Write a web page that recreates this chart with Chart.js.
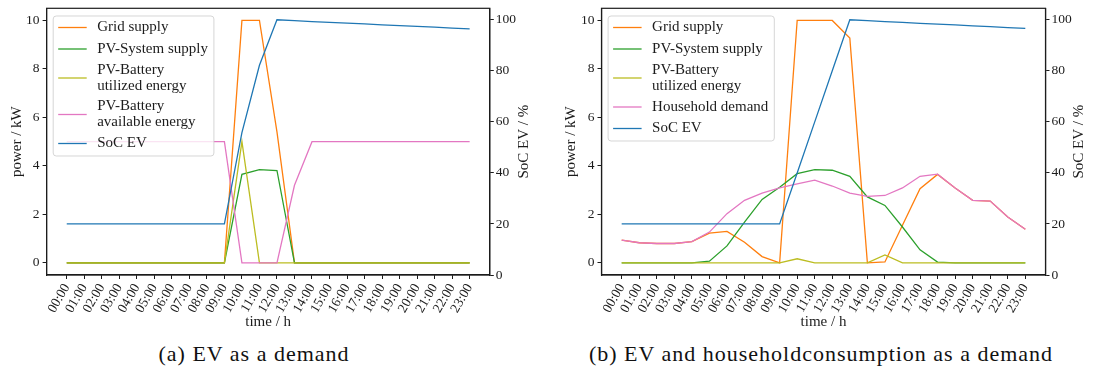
<!DOCTYPE html>
<html>
<head>
<meta charset="utf-8">
<title>EV charging profiles</title>
<script src="https://cdn.jsdelivr.net/npm/chart.js@4.4.1/dist/chart.umd.min.js"></script>
<style>
  html, body { margin: 0; padding: 0; background: #fff; }
  #wrap { position: relative; width: 1094px; height: 383px; overflow: hidden; }
  .panel { position: absolute; top: 0; width: 547px; height: 340px; }
  .caption { position: absolute; top: 341px; font-family: "Liberation Serif", serif; font-size: 22px;
             color: #111; white-space: nowrap; transform: translateX(-50%); letter-spacing: 1px; }
</style>
</head>
<body>
<div id="wrap">
  <div class="panel" style="left:0"><canvas id="chartA"></canvas></div>
  <div class="panel" style="left:547px"><canvas id="chartB"></canvas></div>
  <div class="caption" style="left:254px">(a) EV as a demand</div>
  <div class="caption" style="left:821px">(b) EV and householdconsumption as a demand</div>
</div>
<script>
// Hours of the day
const hours = ['00:00','01:00','02:00','03:00','04:00','05:00','06:00','07:00','08:00','09:00','10:00','11:00',
               '12:00','13:00','14:00','15:00','16:00','17:00','18:00','19:00','20:00','21:00','22:00','23:00'];
const powerTicks = [0, 2, 4, 6, 8, 10];
const socTicks = [0, 20, 40, 60, 80, 100];

// (a) EV as the only demand — power in kW, SoC in %
const gridA        = [0,0,0,0,0,0,0,0,0,0, 10,10,5.4,0, 0,0,0,0,0,0,0,0,0,0];
const pvA          = [0,0,0,0,0,0,0,0,0,0, 3.65,3.85,3.81,0, 0,0,0,0,0,0,0,0,0,0];
const battUsedA    = [0,0,0,0,0,0,0,0,0,0, 5.0,0,0,0, 0,0,0,0,0,0,0,0,0,0];
const battAvailA   = [5,5,5,5,5,5,5,5,5,5, 0,0,0,3.2, 5,5,5,5,5,5,5,5,5,5];
const socA         = [20,20,20,20,20,20,20,20,20,20, 55.8,82.2,100,99.7, 99.3,99.0,98.7,98.4,98.0,97.7,97.4,97.1,96.7,96.4];

// (b) EV plus household consumption
const gridB        = [0.94,0.83,0.80,0.80,0.88,1.23,1.30,0.85,0.26,0, 10,10,10,9.27, 0,0.04,1.55,3.06,3.65,3.09,2.58,2.55,1.89,1.39];
const pvB          = [0,0,0,0,0,0.07,0.70,1.68,2.62,3.12, 3.68,3.85,3.82,3.57, 2.72,2.37,1.48,0.54,0.03,0,0,0,0,0];
const battUsedB    = [0,0,0,0,0,0,0,0,0,0, 0.17,0,0,0, 0,0.33,0,0,0,0,0,0,0,0];
const householdB   = [0.94,0.83,0.80,0.80,0.88,1.27,2.03,2.58,2.88,3.09, 3.26,3.41,3.17,2.88, 2.74,2.78,3.09,3.57,3.66,3.09,2.58,2.55,1.89,1.39];
const socB         = [20,20,20,20,20,20,20,20,20,20, 40,60,80,100, 99.7,99.3,99.0,98.6,98.3,98.0,97.6,97.3,96.9,96.6];

const C = { orange: '#ff7f0e', green: '#2ca02c', olive: '#bcbd22', pink: '#e377c2', blue: '#1f77b4' };
const INK = '#1c1c1c';
const FONT = '"Liberation Serif", serif';

Chart.defaults.font.family = FONT;
Chart.defaults.color = INK;

// Frame, axis titles and an in-plot legend box
const decor = {
  id: 'decor',
  afterDraw(chart, args, o) {
    const { ctx, chartArea: a } = chart;
    ctx.save();
    ctx.strokeStyle = INK; ctx.lineWidth = 1.2;
    ctx.strokeRect(a.left, a.top, a.right - a.left, a.bottom - a.top);

    ctx.fillStyle = INK; ctx.font = '15px ' + FONT;
    ctx.textAlign = 'center'; ctx.textBaseline = 'middle';
    const midY = (a.top + a.bottom) / 2;
    ctx.fillText(o.xTitle, (a.left + a.right) / 2, a.bottom + 47);
    ctx.save(); ctx.translate(a.left - 30, midY); ctx.rotate(-Math.PI / 2); ctx.fillText(o.yTitle, 0, 0); ctx.restore();
    ctx.save(); ctx.translate(a.right + 34, midY); ctx.rotate(-Math.PI / 2); ctx.fillText(o.y2Title, 0, 0); ctx.restore();

    // legend
    const items = chart.data.datasets.map(d => ({ lines: d.label.split('\n'), color: d.borderColor }));
    ctx.font = '15px ' + FONT;
    let maxW = 0;
    items.forEach(it => it.lines.forEach(t => { maxW = Math.max(maxW, ctx.measureText(t).width); }));
    const bx = a.left + 6.6, by = a.top + 7.7;
    let cur = 3;
    const rows = items.map(it => {
      const h = it.lines.length === 1 ? 17 : 16 * it.lines.length;
      const r = { it, top: cur, h };
      cur += h + 4.5;
      return r;
    });
    const bh = cur - 4.5 + 4, bw = 44 + maxW + 6;
    ctx.beginPath();
    ctx.roundRect(bx, by, bw, bh, 3);
    ctx.fillStyle = 'rgba(255,255,255,0.8)'; ctx.fill();
    ctx.strokeStyle = 'rgba(204,204,204,0.8)'; ctx.lineWidth = 1; ctx.stroke();
    ctx.textAlign = 'left';
    rows.forEach(r => {
      const cy = by + r.top + r.h / 2;
      ctx.strokeStyle = r.it.color; ctx.lineWidth = 1.3;
      ctx.beginPath(); ctx.moveTo(bx + 5, cy); ctx.lineTo(bx + 33.5, cy); ctx.stroke();
      ctx.fillStyle = INK;
      r.it.lines.forEach((t, k) => {
        const ty = r.it.lines.length === 1 ? cy : by + r.top + 8 + 16 * k;
        ctx.fillText(t, bx + 44, ty);
      });
    });
    ctx.restore();
  }
};

function makeChart(id, series, leftW, rightW) {
  const tickFont = { family: FONT, size: 13.5 };
  const axisCommon = {
    grid: { display: true, drawOnChartArea: false, drawTicks: true, tickLength: 4, color: INK, tickWidth: 1 },
    border: { display: true, color: INK, width: 1.2 }
  };
  return new Chart(document.getElementById(id), {
    type: 'line',
    data: {
      datasets: series.map((s, k) => ({
        label: s.label,
        data: s.values.map((v, i) => ({ x: i, y: v })),
        borderColor: s.color, backgroundColor: s.color,
        borderWidth: 1.3, pointRadius: 0, tension: 0, fill: false,
        yAxisID: s.axis, order: series.length - k
      }))
    },
    options: {
      responsive: true, maintainAspectRatio: false, animation: false, devicePixelRatio: 1,
      layout: { padding: { top: 8.3, left: 0, right: 0, bottom: 0 } },
      plugins: {
        legend: { display: false }, tooltip: { enabled: false },
        decor: { xTitle: 'time / h', yTitle: 'power / kW', y2Title: 'SoC EV / %' }
      },
      scales: {
        x: Object.assign({}, axisCommon, {
          type: 'linear', min: -1.15, max: 24.15,
          afterBuildTicks: s => { s.ticks = hours.map((_, i) => ({ value: i })); },
          afterFit: s => { s.height = 65; s.paddingLeft = 0; s.paddingRight = 0; },
          ticks: { autoSkip: false, minRotation: 60, maxRotation: 60, font: tickFont, color: INK,
                   padding: 2, labelOffset: 0, callback: v => hours[v] }
        }),
        y: Object.assign({}, axisCommon, {
          position: 'left', min: -0.5, max: 10.5,
          afterBuildTicks: s => { s.ticks = powerTicks.map(v => ({ value: v })); },
          afterFit: s => { s.width = leftW; s.paddingTop = 0; s.paddingBottom = 0; },
          ticks: { font: tickFont, color: INK, padding: 3 }
        }),
        y2: Object.assign({}, axisCommon, {
          position: 'right', min: 0, max: 104.5,
          afterBuildTicks: s => { s.ticks = socTicks.map(v => ({ value: v })); },
          afterFit: s => { s.width = rightW; s.paddingTop = 0; s.paddingBottom = 0; },
          ticks: { font: tickFont, color: INK, padding: 2 }
        })
      }
    },
    plugins: [decor]
  });
}

makeChart('chartA', [
  { label: 'Grid supply', values: gridA, color: C.orange, axis: 'y' },
  { label: 'PV-System supply', values: pvA, color: C.green, axis: 'y' },
  { label: 'PV-Battery\nutilized energy', values: battUsedA, color: C.olive, axis: 'y' },
  { label: 'PV-Battery\navailable energy', values: battAvailA, color: C.pink, axis: 'y' },
  { label: 'SoC EV', values: socA, color: C.blue, axis: 'y2' }
], 46.6, 57.2);

makeChart('chartB', [
  { label: 'Grid supply', values: gridB, color: C.orange, axis: 'y' },
  { label: 'PV-System supply', values: pvB, color: C.green, axis: 'y' },
  { label: 'PV-Battery\nutilized energy', values: battUsedB, color: C.olive, axis: 'y' },
  { label: 'Household demand', values: householdB, color: C.pink, axis: 'y' },
  { label: 'SoC EV', values: socB, color: C.blue, axis: 'y2' }
], 54.5, 48.5);
</script>
</body>
</html>
